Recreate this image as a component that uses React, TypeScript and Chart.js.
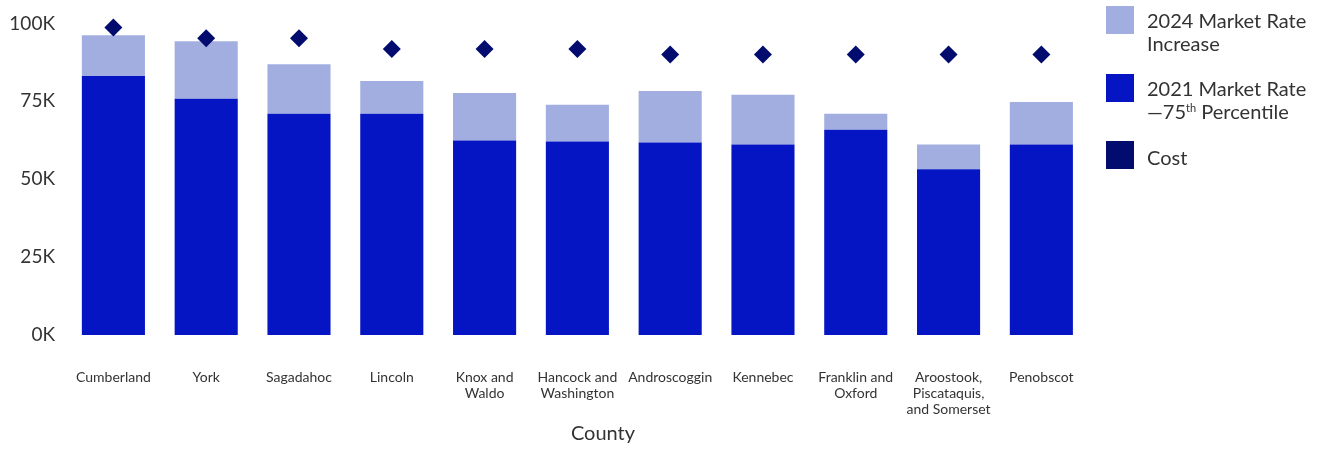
import React, { useEffect, useRef } from "react";
import { Chart, registerables } from "chart.js";

Chart.register(...registerables);

const categories: (string | string[])[] = [
  "Cumberland",
  "York",
  "Sagadahoc",
  "Lincoln",
  ["Knox and", "Waldo"],
  ["Hancock and", "Washington"],
  "Androscoggin",
  "Kennebec",
  ["Franklin and", "Oxford"],
  ["Aroostook,", "Piscataquis,", "and Somerset"],
  "Penobscot",
];

// 2021 Market Rate — 75th Percentile
const rate2021 = [83100, 75800, 71000, 71000, 62400, 62100, 61800, 61100, 65900, 53200, 61100];
// 2024 Market Rate Increase (stacked on top of 2021)
const increase2024 = [13100, 18500, 15900, 10500, 15300, 11800, 16500, 16000, 5100, 7900, 13700];
// Cost
const cost = [98700, 95200, 95200, 91800, 91800, 91800, 90000, 90000, 90000, 90000, 90000];

const yTicks = [0, 25000, 50000, 75000, 100000];

const FONT = "Lato, 'Noto Sans', sans-serif";
const LIGHT = "#A3AEE0";
const DARK = "#0515C4";
const NAVY = "#020C6E";
const TEXT = "#333333";

export default function App() {
  const ref = useRef<HTMLCanvasElement | null>(null);

  useEffect(() => {
    document.body.style.margin = "0";
    const ctx = ref.current!.getContext("2d")!;
    const chart = new Chart(ctx, {
      type: "bar",
      data: {
        labels: categories as any,
        datasets: [
          {
            type: "line",
            label: "Cost",
            data: cost,
            showLine: false,
            pointStyle: "rectRot",
            pointRadius: 9,
            pointHoverRadius: 9,
            backgroundColor: NAVY,
            borderColor: NAVY,
            borderWidth: 0,
            stack: "cost",
            order: 0,
            clip: false as any,
          } as any,
          {
            label: "2021 Market Rate—75th Percentile",
            data: rate2021,
            backgroundColor: DARK,
            stack: "bars",
            order: 1,
            barPercentage: 0.68,
            categoryPercentage: 1,
          },
          {
            label: "2024 Market Rate Increase",
            data: increase2024,
            backgroundColor: LIGHT,
            stack: "bars",
            order: 2,
            barPercentage: 0.68,
            categoryPercentage: 1,
          },
        ],
      },
      options: {
        animation: false,
        responsive: false,
        maintainAspectRatio: false,
        layout: { padding: { top: 21, right: 0, bottom: 0, left: 0 } },
        plugins: {
          legend: { display: false },
          tooltip: { enabled: false },
        },
        scales: {
          x: {
            stacked: true,
            grid: { display: false, drawTicks: false },
            border: { display: false },
            ticks: {
              padding: 34,
              color: TEXT,
              maxRotation: 0,
              autoSkip: false,
              font: { family: FONT, size: 14, lineHeight: 1.15 },
            },
            afterFit: (scale: any) => {
              scale.height = 114;
            },
          },
          y: {
            stacked: true,
            min: 0,
            max: 100000,
            grid: { display: false, drawTicks: false },
            border: { display: false },
            afterBuildTicks: (scale: any) => {
              scale.ticks = yTicks.map((v) => ({ value: v }));
            },
            afterFit: (scale: any) => {
              scale.width = 67;
            },
            ticks: {
              padding: 12,
              color: TEXT,
              font: { family: FONT, size: 19 },
              callback: (v: any) => `${Number(v) / 1000}K`,
            },
          },
        },
      },
    });
    return () => chart.destroy();
  }, []);

  const box = (color: string): React.CSSProperties => ({
    position: "absolute",
    left: 0,
    top: 0,
    width: 28,
    height: 28,
    background: color,
  });
  const txt: React.CSSProperties = {
    position: "absolute",
    left: 41,
    top: 3,
    fontFamily: FONT,
    fontSize: 20,
    lineHeight: "23px",
    color: TEXT,
    whiteSpace: "nowrap",
  };

  return (
    <div style={{ position: "relative", width: 1333, height: 449, background: "#fff", overflow: "hidden" }}>
      <canvas ref={ref} width={1108} height={449} style={{ position: "absolute", left: 0, top: 0, width: 1108, height: 449 }} />
      <div
        style={{
          position: "absolute",
          left: 503,
          width: 200,
          top: 420,
          textAlign: "center",
          fontFamily: FONT,
          fontSize: 20,
          lineHeight: "24px",
          color: TEXT,
        }}
      >
        County
      </div>
      <div style={{ position: "absolute", left: 1106, top: 6 }}>
        <div style={box(LIGHT)} />
        <div style={txt}>
          2024 Market Rate
          <br />
          Increase
        </div>
      </div>
      <div style={{ position: "absolute", left: 1106, top: 74 }}>
        <div style={box(DARK)} />
        <div style={txt}>
          2021 Market Rate
          <br />
          —75<sup style={{ fontSize: 11, verticalAlign: "top", lineHeight: "16px" }}>th</sup> Percentile
        </div>
      </div>
      <div style={{ position: "absolute", left: 1106, top: 141 }}>
        <div style={box(NAVY)} />
        <div style={{ ...txt, top: 5 }}>Cost</div>
      </div>
    </div>
  );
}
